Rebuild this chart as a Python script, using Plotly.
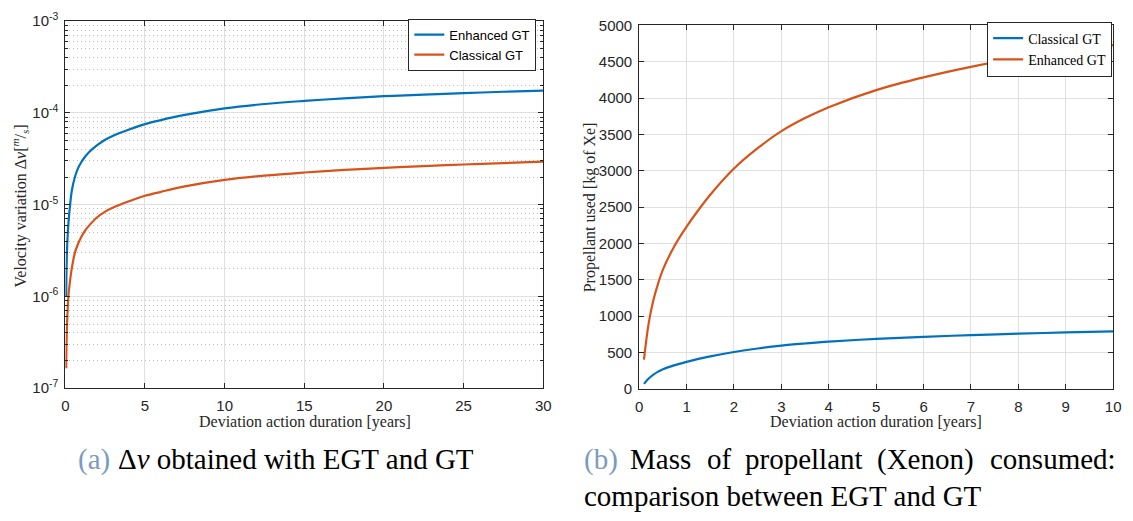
import plotly.graph_objects as go

# ---- data -------------------------------------------------------------
# (a) velocity variation vs. deviation action duration
t_dv = [0.05, 0.07, 0.1, 0.15, 0.2, 0.3, 0.4, 0.6, 0.8, 1.0, 1.25, 1.5, 2,
        2.5, 3, 4, 5, 6, 7.5, 10, 12.5, 15, 17.5, 20, 22.5, 25, 27.5, 30]
dv_enhanced = [1.0e-6, 1.8e-6, 3.0e-6, 4.8e-6, 6.5e-6, 1.0e-5, 1.4e-5, 2.0e-5,
               2.5e-5, 2.9e-5, 3.35e-5, 3.75e-5, 4.45e-5, 5.1e-5, 5.65e-5,
               6.6e-5, 7.55e-5, 8.35e-5, 9.5e-5, 1.12e-4, 1.25e-4, 1.35e-4,
               1.44e-4, 1.52e-4, 1.58e-4, 1.64e-4, 1.70e-4, 1.75e-4]
dv_classical = [1.65e-7, 2.8e-7, 4.6e-7, 7.6e-7, 1.05e-6, 1.5e-6, 2.0e-6, 3.0e-6,
                3.75e-6, 4.45e-6, 5.25e-6, 5.95e-6, 7.3e-6, 8.4e-6, 9.3e-6,
                1.09e-5, 1.25e-5, 1.38e-5, 1.58e-5, 1.86e-5, 2.07e-5, 2.24e-5,
                2.39e-5, 2.52e-5, 2.63e-5, 2.74e-5, 2.84e-5, 2.94e-5]

# (b) propellant mass vs. deviation action duration
t_mass = [0.1, 0.2, 0.3, 0.4, 0.5, 0.75, 1, 1.25, 1.5, 2, 2.5, 3, 3.5, 4,
          5, 6, 7, 8, 9, 10]
mass_classical = [66, 140, 195, 235, 268, 325, 370, 410, 445, 505, 553, 592,
                  622, 648, 686, 714, 738, 757, 774, 788]
mass_enhanced = [400, 900, 1220, 1450, 1640, 1970, 2230, 2460, 2670, 3030,
                 3310, 3545, 3725, 3875, 4110, 4285, 4430, 4550, 4650, 4730]

x_ticks_a = [0, 5, 10, 15, 20, 25, 30]
y_decades_a = [-7, -6, -5, -4, -3]
x_ticks_b = list(range(0, 11))
y_ticks_b = list(range(0, 5001, 500))

# ---- style ------------------------------------------------------------
W, H = 1133, 521
BLUE = "#0072BD"
ORANGE = "#D95319"
AX = "#262626"
GRID = "#e0e0e0"
SANS = "Liberation Sans, Arial, sans-serif"
SERIF = "Liberation Serif, Times New Roman, serif"
CAP_COLOR = "#7b9bbd"


def px(x):
    return x / W


def py(y):
    return 1 - y / H


minor_a = [m * 10 ** d for d in y_decades_a[:-1] for m in range(2, 10)]

axis_common = dict(
    showline=True, linecolor=AX, linewidth=1, mirror="allticks",
    ticks="inside", ticklen=5, tickcolor=AX, tickwidth=1,
    showgrid=True, gridcolor=GRID, gridwidth=1, zeroline=False,
    tickfont=dict(family=SANS, size=15, color=AX),
)

LINE = dict(width=2.2, shape="spline", smoothing=1.0)

fig = go.Figure()

fig.add_trace(go.Scatter(x=t_dv, y=dv_enhanced, mode="lines", name="Enhanced GT",
                         line=dict(color=BLUE, **LINE),
                         xaxis="x", yaxis="y", legend="legend"))
fig.add_trace(go.Scatter(x=t_dv, y=dv_classical, mode="lines", name="Classical GT",
                         line=dict(color=ORANGE, **LINE),
                         xaxis="x", yaxis="y", legend="legend"))
fig.add_trace(go.Scatter(x=t_mass, y=mass_classical, mode="lines", name="Classical GT",
                         line=dict(color=BLUE, **LINE),
                         xaxis="x2", yaxis="y2", legend="legend2"))
fig.add_trace(go.Scatter(x=t_mass, y=mass_enhanced, mode="lines", name="Enhanced GT",
                         line=dict(color=ORANGE, **LINE),
                         xaxis="x2", yaxis="y2", legend="legend2"))

fig.update_layout(
    width=W, height=H,
    margin=dict(l=0, r=0, t=0, b=0),
    paper_bgcolor="white", plot_bgcolor="white",
    xaxis=dict(domain=[px(62), px(545)], anchor="y", range=[0, 30],
               tickmode="array", tickvals=x_ticks_a, ticklabelstandoff=4,
               **axis_common),
    yaxis=dict(domain=[py(391.5), py(10.5)], anchor="x", type="log",
               range=[-7, -3], tickmode="array",
               tickvals=[10 ** d for d in y_decades_a],
               ticktext=[f"10<sup>{d}</sup>" for d in y_decades_a],
               ticklabelstandoff=3,
               minor=dict(tickmode="array", tickvals=minor_a, ticks="inside",
                          ticklen=3, tickcolor=AX, showgrid=True,
                          gridcolor="#bdbdbd", griddash="1px,3px", gridwidth=1),
               **axis_common),
    xaxis2=dict(domain=[px(642), px(1121)], anchor="y2", range=[0, 10],
                tickmode="array", tickvals=x_ticks_b, ticklabelstandoff=4,
                **axis_common),
    yaxis2=dict(domain=[py(392), py(15)], anchor="x2", range=[0, 5000],
                tickmode="array", tickvals=y_ticks_b, ticklabelstandoff=3,
                **axis_common),
    legend=dict(x=px(538), y=py(8), xanchor="right", yanchor="top",
                bgcolor="white", bordercolor=AX, borderwidth=1,
                font=dict(family=SANS, size=13, color="black"),
                tracegroupgap=0, itemwidth=30),
    legend2=dict(x=px(1120), y=py(11), xanchor="right", yanchor="top",
                 bgcolor="white", bordercolor=AX, borderwidth=1,
                 font=dict(family=SERIF, size=14, color="black"),
                 tracegroupgap=0, itemwidth=30),
    showlegend=True,
)

ann = []


def text(x, y, s, size, family=SERIF, color=AX, xanchor="center", angle=0):
    ann.append(dict(x=px(x), y=py(y), xref="paper", yref="paper", text=s,
                    showarrow=False, xanchor=xanchor, yanchor="middle",
                    textangle=angle,
                    font=dict(family=family, size=size, color=color)))


# axis titles
text(304, 427, "Deviation action duration [years]", 16)
text(16, 202, "Velocity variation Δ<i>v</i>[<sup><i>m</i></sup>/<sub><i>s</i></sub>]",
     16, angle=-90)
text(881, 427, "Deviation action duration [years]", 16)
text(592, 204, "Propellant used [kg of Xe]", 16, angle=-90)

# sub-captions
CAP = 29
text(73, 465, "(a)", CAP, color=CAP_COLOR, xanchor="left")
text(113, 465, "Δ<i>v</i> obtained with EGT and GT", CAP, color="black",
     xanchor="left")

# first line of caption (b) is justified to the full column width
text(584, 465, "(b)", CAP, color=CAP_COLOR, xanchor="left")
for word, x0 in [("Mass", 631), ("of", 709), ("propellant", 747),
                 ("(Xenon)", 880)]:
    text(x0, 465, word, CAP, color="black", xanchor="left")
text(1126, 465, "consumed:", CAP, color="black", xanchor="right")
text(584, 503, "comparison between EGT and GT", CAP, color="black",
     xanchor="left")

fig.update_layout(annotations=ann)

fig.write_html("out.html")
